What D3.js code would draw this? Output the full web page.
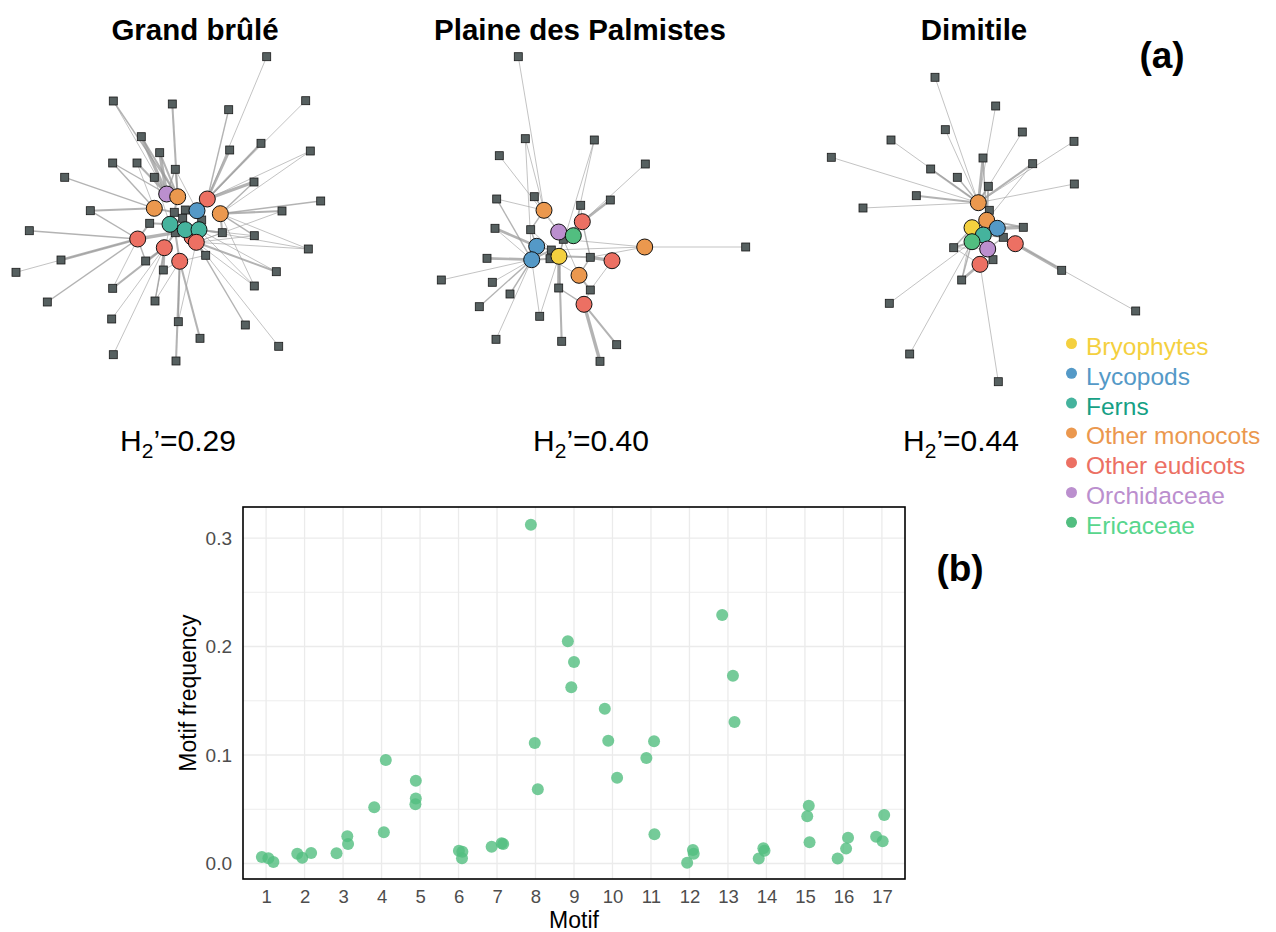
<!DOCTYPE html>
<html>
<head>
<meta charset="utf-8">
<script src="https://cdn.jsdelivr.net/npm/d3@7"></script>
<style>
  body { margin: 0; background: #fff; }
  svg { display: block; }
  text { font-family: "Liberation Sans", Arial, Helvetica, sans-serif; }
</style>
</head>
<body>
<svg id="fig" width="1276" height="932"></svg>
<script>
// ---------- plant groups ----------
const groups = ["Bryophytes", "Lycopods", "Ferns", "Other monocots", "Other eudicots", "Orchidaceae", "Ericaceae"];
const groupFill = ["#F4D03F", "#5499C7", "#45B39D", "#EB984E", "#EC7063", "#BB8FCE", "#52BE80"];
const groupText = ["#F4D03F", "#5499C7", "#16A085", "#EB984E", "#EC7063", "#BB8FCE", "#58D68D"];

// ---------- sites ----------
const sites = ["Grand brûlé", "Plaine des Palmistes", "Dimitile"];
const h2Values = ["0.29", "0.40", "0.44"];

// network layouts: plants [group, x, y], pollinators [x, y], links [pollinator, plant, weight]
const gbPlants = [
  [4, 192, 197],
  [5, 166.7, 154], [3, 177.7, 156.7], [4, 207.3, 159], [3, 154.3, 168.3],
  [1, 197, 170.7], [3, 220.3, 173.7], [2, 170, 184.3], [2, 185.3, 189.7],
  [2, 199, 189.7], [4, 137.7, 199], [4, 164.3, 207.7], [4, 196.3, 202.3],
  [4, 179.7, 221.3]
];
const gbAnimals = [
  [266.7, 16.7], [113.3, 61], [172.3, 64], [228.7, 69.7], [305.7, 60.7],
  [141.3, 96.7], [159.7, 112.7], [229.7, 110], [261, 103.3], [310.3, 111],
  [112.7, 123], [137, 123], [175.3, 129.3], [154.3, 137.3], [64.7, 137.3],
  [254, 142], [320.7, 161], [90.3, 170.7], [282, 171], [174.3, 172.3],
  [185.3, 170], [149.7, 183.3], [182.7, 178.3], [201.7, 180], [29.3, 190.7],
  [222.3, 192.7], [254.3, 195.7], [308.3, 209], [175.3, 192.7], [205.7, 215.3],
  [61, 220], [145.7, 221], [163.3, 230], [16, 232.3], [276.3, 231.7],
  [254.3, 246], [112.7, 248.3], [47.3, 262], [155, 261], [111.7, 279],
  [178.3, 281.7], [245.3, 285], [200, 298.3], [278.7, 306.3], [113.3, 314.7],
  [176, 321]
];
const gbLinks = [
  [0, 3, 1], [1, 2, 1.5], [1, 1, 1], [2, 2, 2], [3, 3, 1.5], [4, 3, 1],
  [5, 1, 3], [5, 2, 2], [6, 1, 3], [6, 2, 2], [7, 3, 2.5], [8, 3, 2], [8, 5, 1],
  [9, 3, 1], [9, 6, 1], [10, 4, 1.5], [10, 1, 1.5], [11, 1, 2], [11, 4, 1],
  [12, 1, 1.5], [12, 2, 1.5], [12, 5, 1], [13, 1, 2], [13, 7, 1], [14, 4, 1.5],
  [15, 3, 3], [15, 6, 1.5], [16, 6, 1.5], [17, 4, 2], [17, 10, 1.5], [18, 6, 2], [18, 12, 1],
  [19, 7, 3], [19, 2, 2], [19, 4, 2], [20, 8, 3], [20, 5, 2], [21, 7, 2], [21, 10, 2],
  [22, 8, 3], [22, 7, 2], [23, 9, 3], [23, 5, 2], [24, 10, 1.5], [25, 9, 2], [25, 6, 2],
  [25, 12, 1], [26, 6, 1.5], [26, 9, 1], [26, 12, 1], [27, 6, 1], [27, 9, 1], [27, 12, 1],
  [28, 10, 3], [28, 11, 2], [28, 8, 3], [28, 13, 2], [29, 12, 2], [29, 13, 1],
  [30, 10, 2.5], [31, 11, 2], [31, 10, 1.5], [32, 11, 2.5], [32, 13, 1], [33, 10, 1],
  [34, 12, 2], [34, 9, 1], [35, 12, 1], [35, 6, 1], [35, 9, 1], [36, 11, 2], [36, 10, 1],
  [37, 10, 1.5], [38, 11, 1.5], [38, 13, 1], [38, 7, 1], [39, 11, 1], [40, 13, 1.5],
  [40, 12, 1], [41, 12, 1.5], [42, 13, 2], [43, 12, 1], [44, 11, 1], [45, 13, 2]
];

const ppPlants = [
  [3, 124, 170.3], [4, 162.3, 181.7], [5, 138.7, 192], [6, 153.3, 195.7],
  [3, 224.7, 207], [1, 116.7, 206.3], [1, 111.7, 219.7], [0, 139, 216.3],
  [4, 192, 220.7], [3, 159, 235.3], [4, 164, 264.3]
];
const ppAnimals = [
  [98.3, 16.7], [105.3, 98.7], [174.3, 100], [79.3, 115.7], [225.3, 124],
  [76.7, 159], [114.3, 156.7], [160.7, 165.3], [190.3, 160], [75, 188.3],
  [110.7, 189.7], [143.3, 199.3], [131.3, 210], [67, 218.3], [130, 218.7],
  [170.3, 217.3], [325.7, 207], [21.3, 240], [72.3, 242.3], [90, 254],
  [138.7, 248], [170.3, 250], [59.3, 266.7], [119.7, 276.3], [76, 299.3],
  [141.7, 301.3], [196.7, 304.7], [180, 321.3]
];
const ppLinks = [
  [0, 0, 1], [1, 0, 1], [1, 6, 1], [2, 7, 1], [2, 3, 1], [3, 2, 1], [4, 1, 1],
  [5, 0, 1], [5, 6, 1.5], [6, 0, 1.5], [6, 2, 1], [7, 3, 1.5], [7, 1, 1], [8, 1, 2.5],
  [9, 5, 2.5], [9, 6, 1], [10, 0, 1.5], [10, 5, 1.5], [10, 7, 1],
  [11, 2, 2], [11, 3, 2], [11, 7, 1.5], [11, 4, 1], [11, 9, 1],
  [12, 7, 2], [12, 6, 2], [12, 5, 1.5], [12, 4, 1], [13, 6, 2.5],
  [14, 7, 2], [14, 6, 2], [14, 9, 1], [15, 8, 3], [15, 7, 2], [15, 9, 1.5], [15, 1, 1.5],
  [15, 4, 1], [16, 4, 1], [17, 6, 1], [18, 6, 1], [19, 6, 1.5], [20, 7, 3], [20, 10, 1.5],
  [21, 9, 2], [21, 8, 1], [21, 10, 1], [22, 6, 1.5], [23, 6, 1], [23, 7, 1], [24, 6, 1],
  [25, 7, 2], [26, 10, 2], [27, 10, 3]
];

const dmPlants = [
  [3, 168.3, 142.7], [3, 176.7, 160.3], [0, 162, 167.7], [1, 187.3, 168.3],
  [2, 173.3, 175], [6, 162, 181.7], [5, 177.7, 189], [4, 205.3, 183.7],
  [4, 170, 204.3]
];
const dmAnimals = [
  [125, 17.3], [185.7, 46], [135.3, 69.7], [212.3, 72], [81, 80],
  [264, 81.3], [21.3, 97.3], [173, 98], [120.7, 109], [222.7, 103.7],
  [147.3, 117.3], [178.3, 126.3], [264.3, 124], [106.3, 135.7], [53, 148],
  [179.3, 150.3], [213.3, 167.3], [193.3, 177.3], [143.7, 187.7], [183, 199.7],
  [251.7, 210.3], [151.7, 220], [79.3, 243.3], [325.7, 251], [99.7, 294],
  [188.3, 321.7]
];
const dmLinks = [
  [0, 0, 1], [1, 0, 1], [2, 0, 1], [3, 0, 1], [4, 0, 1], [5, 0, 1], [6, 0, 1],
  [7, 0, 2.5], [7, 1, 1.5], [8, 0, 2], [9, 0, 2], [9, 1, 1], [10, 0, 1.5],
  [11, 0, 2], [11, 1, 2], [12, 0, 1], [13, 0, 2], [14, 0, 1],
  [15, 1, 3], [15, 0, 2], [15, 4, 1], [16, 3, 3], [16, 1, 2],
  [17, 3, 1.5], [17, 6, 1.5], [17, 4, 1.5], [17, 7, 1],
  [18, 5, 2], [18, 2, 1.5], [18, 8, 1], [18, 6, 1],
  [19, 6, 1.5], [19, 8, 1.5], [19, 4, 1], [20, 7, 3],
  [21, 8, 2.5], [21, 5, 1.5], [21, 2, 1], [22, 5, 1], [23, 7, 1], [24, 5, 1], [25, 8, 1]
];

const networks = [
  { plants: gbPlants, animals: gbAnimals, links: gbLinks },
  { plants: ppPlants, animals: ppAnimals, links: ppLinks },
  { plants: dmPlants, animals: dmAnimals, links: dmLinks }
];

// ---------- motif frequencies (three sites per motif) ----------
const motifLabels = ["1","2","3","4","5","6","7","8","9","10","11","12","13","14","15","16","17"];
const motifFreq = [
  [0.0060, 0.0048, 0.0014],
  [0.0090, 0.0053, 0.0097],
  [0.0094, 0.0250, 0.0180],
  [0.0518, 0.0954, 0.0288],
  [0.0763, 0.0600, 0.0545],
  [0.0118, 0.0109, 0.0048],
  [0.0155, 0.0186, 0.0180],
  [0.3123, 0.1110, 0.0684],
  [0.2048, 0.1857, 0.1624],
  [0.1427, 0.1132, 0.0791],
  [0.0972, 0.1126, 0.0269],
  [0.0007, 0.0124, 0.0090],
  [0.2290, 0.1731, 0.1304],
  [0.0045, 0.0140, 0.0118],
  [0.0533, 0.0435, 0.0196],
  [0.0045, 0.0238, 0.0137],
  [0.0247, 0.0447, 0.0205]
];
const motifJitter = [
  [-0.11, 0.06, 0.19], [-0.19, -0.06, 0.17], [-0.17, 0.11, 0.13], [-0.19, 0.11, 0.06],
  [-0.11, -0.11, -0.12], [0.01, 0.10, 0.09], [-0.14, 0.12, 0.16], [-0.12, -0.02, 0.06],
  [-0.16, 0.00, -0.07], [-0.20, -0.11, 0.12], [-0.12, 0.08, 0.09], [-0.06, 0.09, 0.11],
  [-0.15, 0.13, 0.17], [-0.20, -0.08, -0.05], [0.10, 0.06, 0.12], [-0.15, 0.12, 0.07],
  [-0.15, 0.06, 0.02]
];
const yTicks = [0, 0.1, 0.2, 0.3];
const yMinor = [0.05, 0.15, 0.25];

const svg = d3.select("#fig");

// ================= (a) networks =================
const netOrigins = [[0, 40], [420, 40], [810, 60]];
const titleX = [195, 580, 974];
const h2X = [178, 591, 961];
const linkWidth = d3.scaleLinear().domain([1, 3]).range([0.8, 3.3]);

networks.forEach((net, i) => {
  const [ox, oy] = netOrigins[i];
  const sx = d3.scaleLinear().domain([0, 340]).range([ox, ox + 340]);
  const sy = d3.scaleLinear().domain([0, 340]).range([oy, oy + 340]);
  const g = svg.append("g");

  g.append("g").selectAll("line").data(net.links).join("line")
    .attr("x1", d => sx(net.animals[d[0]][0]))
    .attr("y1", d => sy(net.animals[d[0]][1]))
    .attr("x2", d => sx(net.plants[d[1]][1]))
    .attr("y2", d => sy(net.plants[d[1]][2]))
    .attr("stroke", "#9a9a9a")
    .attr("stroke-opacity", 0.75)
    .attr("stroke-width", d => linkWidth(d[2]));

  g.append("g").selectAll("rect").data(net.animals).join("rect")
    .attr("x", d => sx(d[0]) - 4)
    .attr("y", d => sy(d[1]) - 4)
    .attr("width", 8).attr("height", 8)
    .attr("fill", "#566060")
    .attr("stroke", "#1a1a1a")
    .attr("stroke-width", 0.8);

  g.append("g").selectAll("circle").data(net.plants).join("circle")
    .attr("cx", d => sx(d[1]))
    .attr("cy", d => sy(d[2]))
    .attr("r", 8)
    .attr("fill", d => groupFill[d[0]])
    .attr("stroke", "#111")
    .attr("stroke-width", 1);

  svg.append("text")
    .attr("x", titleX[i]).attr("y", 40)
    .attr("text-anchor", "middle")
    .attr("font-size", 29.5).attr("font-weight", "bold")
    .attr("fill", "#000")
    .text(sites[i]);

  const t = svg.append("text")
    .attr("x", h2X[i]).attr("y", 451)
    .attr("text-anchor", "middle")
    .attr("font-size", 30).attr("fill", "#000");
  t.append("tspan").text("H");
  t.append("tspan").attr("font-size", 21).attr("dy", 7).text("2");
  t.append("tspan").attr("dy", -7).text("\u2019=" + h2Values[i]);
});

svg.append("text").attr("x", 1162).attr("y", 68)
  .attr("text-anchor", "middle").attr("font-size", 37).attr("font-weight", "bold")
  .text("(a)");

// legend
const legend = svg.append("g");
groups.forEach((name, i) => {
  const by = 355 + i * 29.8;
  legend.append("circle").attr("cx", 1071.5).attr("cy", by - 11.5).attr("r", 5.5)
    .attr("fill", groupFill[i]);
  legend.append("text").attr("x", 1086).attr("y", by)
    .attr("font-size", 24.5).attr("fill", groupText[i]).text(name);
});

// ================= (b) motif frequencies =================
const pb = { left: 243, right: 905, top: 507, bottom: 879 };
const x = d3.scaleLinear().domain([0.4, 17.6]).range([pb.left, pb.right]);
const y = d3.scaleLinear().domain([-0.0143, 0.3286]).range([pb.bottom, pb.top]);

const pg = svg.append("g");
pg.append("g").selectAll("line").data(yMinor).join("line")
  .attr("x1", pb.left).attr("x2", pb.right)
  .attr("y1", d => y(d)).attr("y2", d => y(d))
  .attr("stroke", "#ebebeb").attr("stroke-width", 0.9);
pg.append("g").selectAll("line").data(yTicks).join("line")
  .attr("x1", pb.left).attr("x2", pb.right)
  .attr("y1", d => y(d)).attr("y2", d => y(d))
  .attr("stroke", "#ebebeb").attr("stroke-width", 1.3);
pg.append("g").selectAll("line").data(motifLabels).join("line")
  .attr("x1", (d, i) => x(i + 1)).attr("x2", (d, i) => x(i + 1))
  .attr("y1", pb.top).attr("y2", pb.bottom)
  .attr("stroke", "#ebebeb").attr("stroke-width", 1.3);

// points
const pts = [];
motifFreq.forEach((vals, m) => vals.forEach((v, k) => pts.push({ m: m + 1, v, j: motifJitter[m][k] })));
pg.append("g").selectAll("circle").data(pts).join("circle")
  .attr("cx", d => x(d.m + d.j))
  .attr("cy", d => y(d.v))
  .attr("r", 6)
  .attr("fill", "#52BE80")
  .attr("fill-opacity", 0.8);

pg.append("rect")
  .attr("x", pb.left).attr("y", pb.top)
  .attr("width", pb.right - pb.left).attr("height", pb.bottom - pb.top)
  .attr("fill", "none").attr("stroke", "#000").attr("stroke-width", 1.6);

// axes
const yAxis = d3.axisLeft(y).tickValues(yTicks).tickFormat(d3.format(".1f")).tickSize(0).tickPadding(11);
const yG = svg.append("g").attr("transform", `translate(${pb.left},0)`).call(yAxis);
yG.select(".domain").remove();
yG.selectAll("text").attr("font-size", 19).attr("fill", "#4d4d4d")
  .attr("font-family", "Liberation Sans, Arial, sans-serif");

const xAxis = d3.axisBottom(x).tickValues(d3.range(1, 18)).tickFormat((d) => motifLabels[d - 1]).tickSize(0).tickPadding(11);
const xG = svg.append("g").attr("transform", `translate(0,${pb.bottom})`).call(xAxis);
xG.select(".domain").remove();
xG.selectAll("text").attr("font-size", 18.5).attr("fill", "#4d4d4d")
  .attr("font-family", "Liberation Sans, Arial, sans-serif");

svg.append("text").attr("x", (pb.left + pb.right) / 2).attr("y", 928)
  .attr("text-anchor", "middle").attr("font-size", 23).text("Motif");
svg.append("text")
  .attr("transform", `translate(196,${(pb.top + pb.bottom) / 2}) rotate(-90)`)
  .attr("text-anchor", "middle").attr("font-size", 23).text("Motif frequency");

svg.append("text").attr("x", 960).attr("y", 581)
  .attr("text-anchor", "middle").attr("font-size", 37).attr("font-weight", "bold")
  .text("(b)");
</script>
</body>
</html>
